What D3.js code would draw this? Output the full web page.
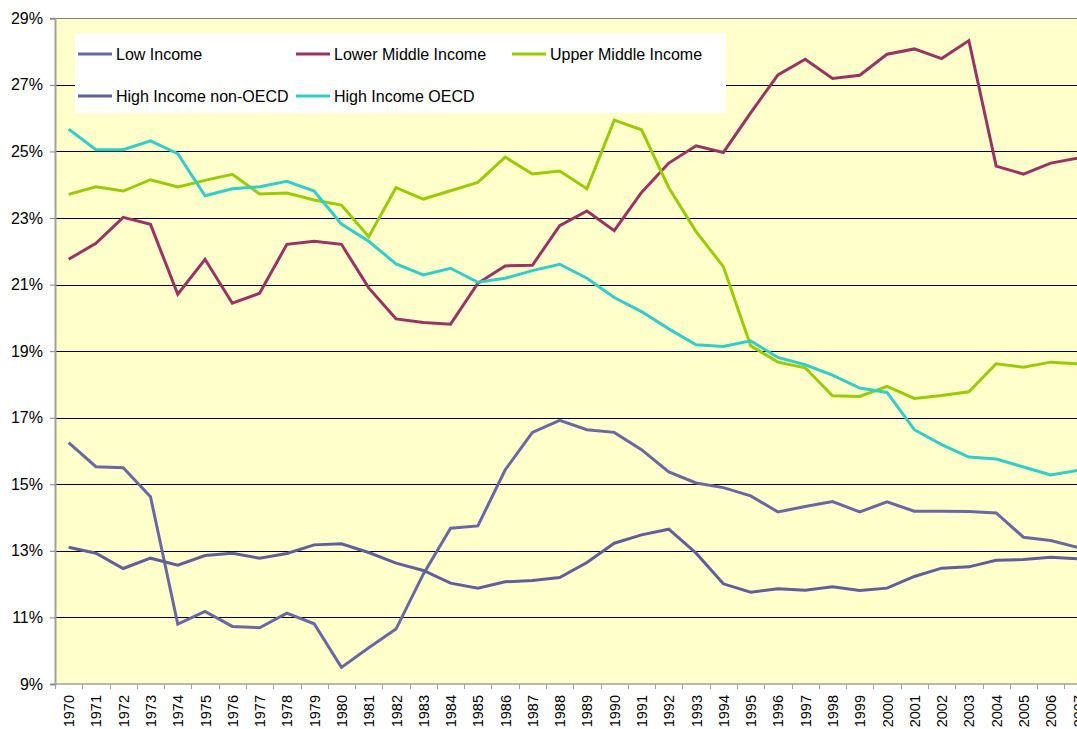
<!DOCTYPE html>
<html>
<head>
<meta charset="utf-8">
<script src="https://cdnjs.cloudflare.com/ajax/libs/d3/7.8.5/d3.min.js"></script>
<style>
  html, body { margin: 0; padding: 0; background: #fff; overflow: hidden; }
  svg { display: block; font-family: "Liberation Sans", Arial, sans-serif; }
</style>
</head>
<body>
<div class="chart"></div>
<script>
const width = 1077;
const height = 729;

// Data (share in %)
const years = d3.range(1970, 2008).map(String);

const lowIncome = [16.25, 15.53, 15.5, 14.63, 10.8, 11.18, 10.73, 10.69, 11.13, 10.81,
  9.5, 10.09, 10.65, 12.3, 13.68, 13.75, 15.43, 16.56, 16.92, 16.64,
  16.56, 16.04, 15.37, 15.04, 14.9, 14.65, 14.17, 14.33, 14.48, 14.17,
  14.47, 14.19, 14.19, 14.18, 14.14, 13.41, 13.31, 13.1];

const lowerMiddle = [21.76, 22.24, 23.02, 22.81, 20.71, 21.76, 20.44, 20.74, 22.21, 22.3,
  22.21, 20.9, 19.97, 19.86, 19.81, 21.04, 21.56, 21.58, 22.77, 23.21,
  22.62, 23.77, 24.65, 25.17, 24.97, 26.16, 27.3, 27.77, 27.19, 27.29,
  27.92, 28.08, 27.79, 28.33, 24.56, 24.32, 24.65, 24.8];

const upperMiddle = [23.71, 23.94, 23.81, 24.15, 23.93, 24.13, 24.31, 23.72, 23.75, 23.54,
  23.39, 22.44, 23.91, 23.57, 23.82, 24.07, 24.83, 24.32, 24.41, 23.88,
  25.94, 25.65, 23.91, 22.59, 21.54, 19.16, 18.67, 18.5, 17.66, 17.64,
  17.94, 17.58, 17.67, 17.78, 18.62, 18.52, 18.67, 18.62];

const highNonOecd = [13.11, 12.93, 12.47, 12.78, 12.57, 12.86, 12.93, 12.78, 12.92, 13.18,
  13.21, 12.95, 12.63, 12.41, 12.03, 11.88, 12.07, 12.11, 12.2, 12.65,
  13.23, 13.48, 13.65, 12.93, 12.01, 11.76, 11.86, 11.82, 11.92, 11.81,
  11.88, 12.23, 12.48, 12.52, 12.72, 12.74, 12.81, 12.76];

const highOecd = [25.67, 25.05, 25.05, 25.32, 24.93, 23.67, 23.88, 23.94, 24.1, 23.81,
  22.82, 22.3, 21.62, 21.29, 21.49, 21.07, 21.19, 21.42, 21.61, 21.19,
  20.61, 20.19, 19.67, 19.19, 19.14, 19.31, 18.81, 18.59, 18.28, 17.89,
  17.76, 16.64, 16.19, 15.82, 15.76, 15.52, 15.28, 15.42];

const seriesNames = ["Low Income", "Lower Middle Income", "Upper Middle Income",
  "High Income non-OECD", "High Income OECD"];
const seriesValues = [lowIncome, lowerMiddle, upperMiddle, highNonOecd, highOecd];
const seriesColors = ["#6868A4", "#993366", "#99CC00", "#5F5F9C", "#33CCCC"];

const yTicks = [9, 11, 13, 15, 17, 19, 21, 23, 25, 27, 29];

// Layout
const plotLeft = 55;
const plotTop = 18.3;
const plotBottom = 684;
const step = 27.28;

const svg = d3.select(".chart")
  .append("svg")
  .attr("width", width)
  .attr("height", height);

const x = d3.scaleBand()
  .domain(years)
  .range([plotLeft, plotLeft + step * years.length]);

const y = d3.scaleLinear()
  .domain([9, 29])
  .range([plotBottom, plotTop]);

// plot background
svg.append("rect")
  .attr("x", plotLeft)
  .attr("y", plotTop)
  .attr("width", x.range()[1] - plotLeft)
  .attr("height", plotBottom - plotTop)
  .attr("fill", "#FFFFCC");

// gridlines
svg.append("g")
  .selectAll("line")
  .data(yTicks.slice(1))
  .join("line")
  .attr("x1", plotLeft)
  .attr("x2", x.range()[1])
  .attr("y1", d => Math.round(y(d)) + 0.5)
  .attr("y2", d => Math.round(y(d)) + 0.5)
  .attr("stroke", d => d === 29 ? "#808080" : "#000")
  .attr("stroke-width", 1);

// y axis
const yAxis = svg.append("g")
  .attr("transform", `translate(${plotLeft},0)`)
  .call(d3.axisLeft(y)
    .tickValues(yTicks)
    .tickSize(5)
    .tickPadding(7)
    .tickFormat(d => d + "%"));
yAxis.select(".domain").attr("stroke", "#A0A0A0").attr("stroke-width", 2);
yAxis.selectAll(".tick line").attr("stroke", "#808080");
yAxis.selectAll("text")
  .attr("font-size", 16)
  .attr("fill", "#000")
  .attr("font-family", "Liberation Sans, Arial, sans-serif");

// x axis
const xAxis = svg.append("g")
  .attr("transform", `translate(0,${plotBottom})`);
xAxis.append("line")
  .attr("x1", plotLeft)
  .attr("x2", x.range()[1])
  .attr("stroke", "#A0A0A0")
  .attr("stroke-width", 1.5);
xAxis.selectAll(".xtick")
  .data(years.concat(["end"]))
  .join("line")
  .attr("class", "xtick")
  .attr("x1", (d, i) => Math.round(plotLeft + i * x.step()) + 0.5)
  .attr("x2", (d, i) => Math.round(plotLeft + i * x.step()) + 0.5)
  .attr("y1", 0)
  .attr("y2", 5)
  .attr("stroke", "#A0A0A0");
xAxis.selectAll(".xlabel")
  .data(years)
  .join("text")
  .attr("class", "xlabel")
  .attr("transform", d => `translate(${x(d) + x.bandwidth() / 2 + 5.5},11) rotate(-90)`)
  .attr("text-anchor", "end")
  .attr("font-size", 14.5)
  .attr("fill", "#000")
  .text(d => d);

// lines
const line = d3.line()
  .x((d, i) => x(years[i]) + x.bandwidth() / 2)
  .y(d => y(d));

svg.append("g")
  .selectAll("path")
  .data(seriesValues)
  .join("path")
  .attr("d", line)
  .attr("fill", "none")
  .attr("stroke", (d, i) => seriesColors[i])
  .attr("stroke-width", 3)
  .attr("stroke-linejoin", "miter");

// legend
const legend = svg.append("g").attr("id", "legend");
legend.append("rect")
  .attr("x", 75)
  .attr("y", 33)
  .attr("width", 651)
  .attr("height", 80)
  .attr("fill", "#fff");

const legendPos = [[78, 54], [296, 54], [512, 54], [78, 96], [296, 96]];
const item = legend.selectAll(".item")
  .data(seriesNames)
  .join("g")
  .attr("class", "item")
  .attr("transform", (d, i) => `translate(${legendPos[i][0]},${legendPos[i][1]})`);
item.append("line")
  .attr("x1", 0)
  .attr("x2", 34)
  .attr("stroke", (d, i) => seriesColors[i])
  .attr("stroke-width", 3);
item.append("text")
  .attr("x", 38)
  .attr("dy", "0.35em")
  .attr("font-size", 16)
  .attr("fill", "#000")
  .text(d => d);
</script>
</body>
</html>
